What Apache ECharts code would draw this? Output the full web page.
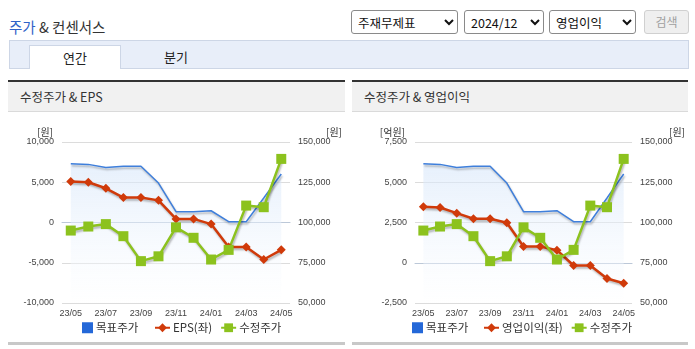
<!DOCTYPE html>
<html>
<head>
<meta charset="utf-8">
<script src="https://cdn.jsdelivr.net/npm/echarts@6/dist/echarts.min.js"></script>
<style>
  html, body { margin: 0; padding: 0; background: #fff; }
  body { width: 695px; height: 349px; position: relative; overflow: hidden;
         font-family: "Noto Sans CJK KR", "Noto Sans", sans-serif; color: #333; }
  .abs { position: absolute; }
  #pageTitle { left: 9px; top: 16px; font-size: 14.5px; color: #333; }
  #pageTitle b { font-weight: normal; color: #2f62c8; }
  select { position: absolute; top: 10px; height: 24px; font-size: 12.5px; color: #111;
           font-family: "Noto Sans CJK KR", sans-serif; border: 1px solid #8a8a8a;
           border-radius: 3px; background: #fff; padding: 0 2px; box-sizing: border-box; }
  #btnSearch { position: absolute; left: 644px; top: 10px; width: 45px; height: 24px; box-sizing: border-box;
               border: 1px solid #d0d0d0; border-radius: 3px; background: #efefef; color: #a0a0a0;
               font-size: 12px; text-align: center; line-height: 22px; }
  #tabBar { left: 9px; top: 40px; width: 680px; height: 29px; box-sizing: border-box;
            background: #e8eef9; border: 1px solid #cdd6e6; }
  #tabYear { left: 29px; top: 45px; width: 92px; height: 24px; box-sizing: border-box; background: #fff;
             border: 1px solid #cdd6e6; border-bottom: none; text-align: center; font-size: 13px;
             line-height: 23px; color: #222; }
  #tabQuarter { left: 130px; top: 45px; width: 92px; height: 24px; text-align: center; font-size: 13px;
                line-height: 23px; color: #222; }
  .panel { top: 80px; height: 265px; box-sizing: border-box; border-top: 2px solid #333;
           border-bottom: 3px solid #c8c8c8; }
  .panelHead { position: absolute; left: 0; top: 0; right: 0; height: 29px; background: #f1f1f1;
               border-bottom: 1px solid #dadada; font-size: 12.5px; line-height: 30px; padding-left: 12px;
               color: #333; }
  .chart { position: absolute; left: 0; top: 30px; right: 0; height: 230px; }
</style>
</head>
<body>
  <div id="pageTitle" class="abs"><b>주가</b> &amp; 컨센서스</div>
  <select style="left:351px;width:107px;"><option>주재무제표</option></select>
  <select style="left:464px;width:80px;"><option>2024/12</option></select>
  <select style="left:549px;width:87px;"><option>영업이익</option></select>
  <div id="btnSearch">검색</div>

  <div id="tabBar" class="abs"></div>
  <div id="tabYear" class="abs">연간</div>
  <div id="tabQuarter" class="abs">분기</div>

  <div class="abs panel" style="left:8px;width:337px;">
    <div class="panelHead">수정주가 &amp; EPS</div>
    <div id="chartEps" class="chart"></div>
  </div>
  <div class="abs panel" style="left:352px;width:336px;">
    <div class="panelHead">수정주가 &amp; 영업이익</div>
    <div id="chartOp" class="chart"></div>
  </div>

<script>
// Monthly points, May 2023 - May 2024
const months = ['23/05', '23/06', '23/07', '23/08', '23/09', '23/10', '23/11',
                '23/12', '24/01', '24/02', '24/03', '24/04', '24/05'];

// Consensus target price (원)
const targetPrice = [136500, 136100, 134200, 134900, 134900, 124500, 106700,
                     106700, 107300, 100500, 100500, 115200, 130100];

// Adjusted share price (원)
const adjPrice = [95000, 97500, 99000, 91500, 76000, 79000, 97000,
                  90500, 77000, 83000, 110500, 109500, 139500];

// EPS (원), left axis of the first chart
const eps = [5100, 5000, 4250, 3100, 3100, 2750, 450,
             450, -200, -3050, -3050, -4600, -3400];

// Operating profit (억원), left axis of the second chart
const opProfit = [3480, 3430, 3080, 2730, 2730, 2480, 1010,
                  1010, 780, -170, -170, -975, -1270];

// Axis ranges: [min, max, interval]
const priceAxis = [50000, 150000, 25000];
const epsAxis = [-10000, 10000, 5000];
const opAxis = [-2500, 7500, 2500];

const NUM_FONT = 'Liberation Sans, Arial, sans-serif';
const KR_FONT = 'Noto Sans CJK KR, sans-serif';
const shadow = { shadowColor: 'rgba(0,0,0,0.28)', shadowBlur: 2, shadowOffsetX: 1, shadowOffsetY: 2 };

function fmt(v) { return echarts.format.addCommas(v); }

function buildOption(cfg) {
  const valueAxis = (range, pos, name, nameStyle) => ({
    type: 'value', position: pos, min: range[0], max: range[1], interval: range[2],
    name: name, nameLocation: 'end', nameGap: 5,
    nameTextStyle: Object.assign({ fontFamily: KR_FONT, fontSize: 10, color: '#333' }, nameStyle),
    axisLine: { show: false }, axisTick: { show: false },
    axisLabel: { fontFamily: NUM_FONT, fontSize: 9, color: '#444', margin: 8, formatter: fmt },
    splitLine: { show: pos === 'left', lineStyle: { color: '#dcdcdc', width: 1 } }
  });
  const legendText = { fontFamily: KR_FONT, fontSize: 11.5, color: '#333', padding: [0, 0, 0, -2] };
  return {
    animation: false,
    grid: { left: cfg.gridLeft, top: 30, width: cfg.gridWidth, height: 161 },
    legend: [
      { left: cfg.legendA, top: 205, itemWidth: 11, itemHeight: 11, itemGap: 10,
        textStyle: legendText, data: [{ name: '목표주가', icon: 'rect' }] },
      { left: cfg.legendB, top: 205, itemWidth: 15, itemHeight: 11, itemGap: 8,
        textStyle: legendText, data: [cfg.leftName, '수정주가'] }
    ],
    xAxis: {
      type: 'category', data: months, boundaryGap: true,
      axisLine: { lineStyle: { color: '#bcc8d8' } },
      axisTick: { length: 5, lineStyle: { color: '#bcc8d8' },
                  interval: (i) => i === 0 || i % 2 === 1 },
      axisLabel: { interval: 1, fontFamily: NUM_FONT, fontSize: 9, color: '#444', margin: 6 }
    },
    yAxis: [
      valueAxis(cfg.leftAxis, 'left', cfg.leftUnit, { align: 'right', padding: [0, cfg.leftUnitPad, 0, 0] }),
      valueAxis(priceAxis, 'right', '[원]', { align: 'left', padding: [0, 0, 0, cfg.rightUnitPad] })
    ],
    series: [
      { name: '목표주가', type: 'line', yAxisIndex: 1, data: targetPrice, symbol: 'none',
        color: '#2468d8',
        lineStyle: Object.assign({ color: '#3f7fdb', width: 1.5 }, shadow),
        areaStyle: { origin: 'start',
          color: new echarts.graphic.LinearGradient(0, 0, 0, 1, [
            { offset: 0, color: 'rgba(214,230,250,0.85)' },
            { offset: 1, color: 'rgba(255,255,255,0.5)' }
          ]) } },
      { name: cfg.leftName, type: 'line', yAxisIndex: 0, data: cfg.leftData,
        symbol: 'diamond', symbolSize: 9, color: '#d03a0a',
        lineStyle: Object.assign({ width: 2.5 }, shadow) },
      { name: '수정주가', type: 'line', yAxisIndex: 1, data: adjPrice,
        symbol: 'rect', symbolSize: 10, color: '#8cc21e',
        lineStyle: Object.assign({ width: 2.5 }, shadow) }
    ]
  };
}

echarts.init(document.getElementById('chartEps'), null, { renderer: 'canvas' }).setOption(buildOption({
  gridLeft: 54, gridWidth: 229.5, leftAxis: epsAxis, leftData: eps, leftName: 'EPS(좌)',
  leftUnit: '[원]', leftUnitPad: 9, rightUnitPad: 36, legendA: 69, legendB: 141
}));

echarts.init(document.getElementById('chartOp'), null, { renderer: 'canvas' }).setOption(buildOption({
  gridLeft: 63, gridWidth: 220, leftAxis: opAxis, leftData: opProfit, leftName: '영업이익(좌)',
  leftUnit: '[억원]', leftUnitPad: 10, rightUnitPad: 37, legendA: 55, legendB: 126
}));
</script>
</body>
</html>
